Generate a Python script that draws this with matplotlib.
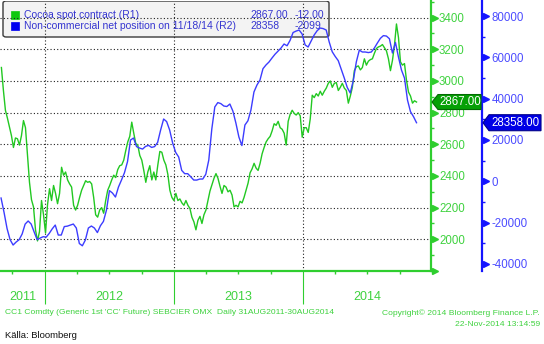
import numpy as np
import pandas as pd
import matplotlib
matplotlib.use("Agg")
import matplotlib.pyplot as plt
import matplotlib.dates as mdates
import matplotlib.transforms as mtransforms
from matplotlib.ticker import MultipleLocator, FixedLocator, FuncFormatter
from matplotlib.patches import FancyBboxPatch, Polygon, Rectangle

plt.rcParams["font.family"] = ["Liberation Sans", "DejaVu Sans"]
plt.rcParams["axes.unicode_minus"] = False

# ---------------------------------------------------------------- data
# Cocoa spot contract (R1), USD/t, 31 Aug 2011 - 18 Nov 2014
cocoa = [
    3085, 2940, 2815, 2765, 2710, 2655, 2580, 2640, 2635, 2595,
    2655, 2750, 2705, 2530, 2360, 2250, 2205, 2060, 1990, 2050,
    2245, 2155, 2040, 2220, 2320, 2245, 2340, 2290, 2225, 2290,
    2455, 2405, 2425, 2375, 2350, 2330, 2215, 2185, 2215, 2265,
    2310, 2340, 2370, 2360, 2365, 2350, 2265, 2155, 2140, 2185,
    2200, 2165, 2245, 2310, 2340, 2375, 2405, 2390, 2440, 2465,
    2470, 2500, 2560, 2615, 2650, 2740, 2670, 2605, 2595, 2530,
    2500, 2435, 2360, 2425, 2465, 2375, 2425, 2375, 2470, 2555,
    2550, 2500, 2470, 2410, 2310, 2265, 2245, 2290, 2245, 2255,
    2230, 2215, 2245, 2215, 2195, 2140, 2110, 2060, 2120, 2145,
    2100, 2155, 2185, 2245, 2305, 2345, 2385, 2415, 2385, 2335,
    2290, 2340, 2330, 2300, 2310, 2280, 2205, 2215, 2205, 2240,
    2230, 2265, 2310, 2355, 2420, 2445, 2480, 2450, 2435, 2480,
    2540, 2580, 2615, 2635, 2650, 2685, 2730, 2720, 2745, 2705,
    2695, 2670, 2595, 2745, 2790, 2815, 2795, 2785, 2800, 2780,
    2645, 2705, 2705, 2675, 2760, 2910, 2895, 2920, 2905, 2935,
    2910, 2935, 2955, 2985, 3000, 2960, 2985, 2990, 2940, 2960,
    2985, 2955, 2940, 2860, 2905, 2960, 3065, 3090, 3095, 3070,
    3085, 3140, 3100, 3125, 3135, 3140, 3175, 3205, 3215, 3220,
    3230, 3210, 3190, 3140, 3065, 3130, 3225, 3360, 3275, 3120,
    3100, 3110, 3005, 2930, 2905, 2860, 2875, 2867,
]
# Non-commercial net position (R2), contracts
net_pos = [
    -8090, -15100, -22900, -28250, -30830, -29390, -28250, -25500, -20700, -19200,
    -20670, -24550, -28250, -27450, -26800, -27000, -25200, -23000, -21160, -26000,
    -26000, -21900, -21700, -21160, -20670, -22600, -30100, -31200, -28420, -22610,
    -21640, -22600, -24800, -21500, -19400, -14000, -4500, -5670, -7610, -2760,
    620, 4200, 9500, 19980, 20950, 16800, 16100, 15600, 16900, 17400,
    16400, 16800, 18800, 24820, 30150, 28900, 24820, 18500, 14000, 11760,
    5300, 3700, 3700, 2200, 620, 600, 1100, 1100, 3400, 10300,
    25300, 36000, 38100, 37600, 36440, 36200, 37400, 34000, 28210, 21440,
    17300, 27240, 29300, 34500, 43220, 46600, 49000, 54500, 56300, 57740,
    59680, 61500, 63000, 64510, 66450, 65600, 68200, 72000, 72700, 73220,
    71290, 66000, 65000, 67900, 70800, 72900, 74190, 73900, 73220, 67420,
    62700, 60400, 58400, 54200, 50010, 45400, 42730, 48800, 57740, 63500,
    62580, 62580, 62300, 62580, 64510, 66930, 69200, 70500, 70300, 69000,
    62090, 67200, 60160, 53860, 50010, 39340, 33700, 31300, 28358,
]
cocoa_change = -12.00
net_change = -2099

cocoa_label = "Cocoa spot contract (R1)"
net_label = "Non-commercial net position on 11/18/14 (R2)"
year_labels = [2011, 2012, 2013, 2014]
cocoa_ticks = [2000, 2200, 2400, 2600, 2800, 3000, 3200, 3400]
cocoa_arrow_ticks = [1800] + cocoa_ticks
net_ticks = [-40000, -20000, 0, 20000, 40000, 60000, 80000]

footer_left = "CC1 Comdty (Generic 1st 'CC' Future) SEBCIER OMX  Daily 31AUG2011-30AUG2014"
footer_right_1 = "Copyright\u00a9 2014 Bloomberg Finance L.P."
footer_right_2 = "22-Nov-2014 13:14:59"
source_text = "K\u00e4lla: Bloomberg"

cocoa_dates = pd.date_range("2011-08-31", "2014-11-18", periods=len(cocoa))
net_dates = pd.date_range("2011-08-30", "2014-11-18", periods=len(net_pos))

# ---------------------------------------------------------------- style
GREEN_LINE = "#22c822"
GREEN_AXIS = "#2fce2f"
GREEN_TEXT = "#3fd23f"
BLUE_LINE = "#3c3cff"
BLUE_AXIS = "#1414ff"
BLUE_TEXT = "#4c4cff"
LEGEND_TEXT = "#3535d0"
GRID = "#202020"

W, H = 544, 344
fig = plt.figure(figsize=(W / 100, H / 100), dpi=100)
fig.patch.set_facecolor("white")


def fx(px):
    return px / W


def fy(py):
    return 1 - py / H


AX_RIGHT, AX_TOP, AX_BOTTOM = 431, 1, 271
ax = fig.add_axes([0, fy(AX_BOTTOM), fx(AX_RIGHT), (AX_BOTTOM - AX_TOP) / H])
ax2 = ax.twinx()

ax.plot(cocoa_dates, cocoa, color=GREEN_LINE, lw=1.0, zorder=3)
ax2.plot(net_dates, net_pos, color=BLUE_LINE, lw=1.0, zorder=3)

ax.set_xlim(pd.Timestamp("2011-08-27"), pd.Timestamp("2014-12-29"))
ax.set_ylim(1800, 3505)
ax2.set_ylim(-43400, 87260)

# spines
for s in ("left", "top"):
    ax.spines[s].set_visible(False)
ax.spines["right"].set_color(GREEN_AXIS)
ax.spines["right"].set_linewidth(1.6)
ax.spines["bottom"].set_color(GREEN_AXIS)
ax.spines["bottom"].set_linewidth(1.6)
for s in ("left", "top", "bottom"):
    ax2.spines[s].set_visible(False)
ax2.spines["right"].set_position(("outward", 51 * 0.72))
ax2.spines["right"].set_color(BLUE_AXIS)
ax2.spines["right"].set_linewidth(1.6)

# green (R1) axis
ax.yaxis.tick_right()
ax.yaxis.set_major_locator(FixedLocator(cocoa_ticks))
ax.yaxis.set_minor_locator(MultipleLocator(100))
ax.yaxis.set_major_formatter(FuncFormatter(lambda v, p: f"{v:.0f}"))
ax.tick_params(axis="y", which="major", length=0, pad=5.8, labelsize=8.3,
               labelcolor=GREEN_TEXT, labelright=True, labelleft=False)
ax.tick_params(axis="y", which="minor", length=2.4, width=1.0, color=GREEN_AXIS)

# blue (R2) axis
ax2.yaxis.set_major_locator(FixedLocator(net_ticks))
ax2.yaxis.set_minor_locator(MultipleLocator(10000))
ax2.yaxis.set_major_formatter(FuncFormatter(lambda v, p: f"{v:.0f}"))
ax2.tick_params(axis="y", which="major", length=0, pad=7.0, labelsize=8.3,
                labelcolor=BLUE_TEXT)
ax2.tick_params(axis="y", which="minor", length=2.4, width=1.0, color=BLUE_AXIS)

# time axis: year separators and quarterly minor ticks
ax.xaxis.set_major_locator(mdates.YearLocator())
ax.xaxis.set_minor_locator(mdates.MonthLocator(bymonth=[1, 4, 7, 10]))
ax.tick_params(axis="x", which="major", length=24, width=0.8, color=GREEN_AXIS,
               labelbottom=False)
ax.tick_params(axis="x", which="minor", length=2.4, width=1.0, color=GREEN_AXIS)

ax.grid(True, which="major", axis="both", color=GRID,
        linestyle=(0, (1, 2)), linewidth=0.8)

# arrow-shaped major ticks
tg = mtransforms.blended_transform_factory(ax.transAxes, ax.transData)
ax.plot([1 + 3.5 / AX_RIGHT] * len(cocoa_arrow_ticks), cocoa_arrow_ticks, ls="none",
        marker=">", ms=4.6, color=GREEN_AXIS, mec=GREEN_AXIS, transform=tg,
        clip_on=False, zorder=4)
tb = mtransforms.blended_transform_factory(ax2.transAxes, ax2.transData)
ax2.plot([1 + 54.5 / AX_RIGHT] * len(net_ticks), net_ticks, ls="none",
         marker=">", ms=4.6, color=BLUE_AXIS, mec=BLUE_AXIS, transform=tb,
         clip_on=False, zorder=4)

# year labels, centred in the visible part of each year
x0, x1 = ax.get_xlim()
tyear = mtransforms.blended_transform_factory(ax.transData, fig.transFigure)
for yr in year_labels:
    a = max(mdates.date2num(pd.Timestamp(f"{yr}-01-01")), x0)
    b = min(mdates.date2num(pd.Timestamp(f"{yr + 1}-01-01")), x1)
    ax.text((a + b) / 2, fy(297), str(yr), transform=tyear, ha="center",
            va="center", fontsize=9, color=GREEN_TEXT, clip_on=False)

# legend panel (drawn beneath the grid, as on the terminal chart)
box = FancyBboxPatch((fx(3), fy(37)), fx(326), 36 / H,
                     boxstyle="round,pad=0,rounding_size=0.006",
                     transform=fig.transFigure, fc="#f3f3f3", ec="#3a3a3a",
                     lw=1.0, zorder=1)
ax.add_artist(box)
rows = [
    (15, "#10c810", cocoa_label, f"{cocoa[-1]:.2f}", f"{cocoa_change:.2f}"),
    (26, "#0000f0", net_label, f"{net_pos[-1]:d}", f"{net_change:d}"),
]
for ypx, col, lab, val, chg in rows:
    ax.add_artist(Rectangle((fx(11), fy(ypx + 4)), fx(8), 8 / H,
                            transform=fig.transFigure, fc=col, ec=col,
                            lw=0.5, zorder=1.1))
    for xpx, s in ((24, lab), (250, val), (295, chg)):
        ax.text(fx(xpx), fy(ypx), s, transform=fig.transFigure, fontsize=7.5,
                color=LEGEND_TEXT, va="center", ha="left", zorder=1.2)


# last-value tags on the two value axes
def value_tag(axis, value, tip, left, right, half, face, edge, text):
    ydisp = axis.transData.transform((0, value))[1]
    ypx = H - ydisp
    pts = [(fx(tip), fy(ypx)), (fx(left), fy(ypx - half)), (fx(right), fy(ypx - half)),
           (fx(right), fy(ypx + half)), (fx(left), fy(ypx + half))]
    fig.add_artist(Polygon(pts, closed=True, transform=fig.transFigure,
                           fc=face, ec=edge, lw=0.8, zorder=10))
    fig.text(fx((left + right) / 2 + 1), fy(ypx), text, ha="center", va="center",
             color="white", fontsize=8.3, zorder=11)


value_tag(ax, cocoa[-1], 432, 438, 481, 7.5, "#06a006", "#046a04", f"{cocoa[-1]:.2f}")
value_tag(ax2, net_pos[-1], 483, 489, 541, 8.0, "#0000e6", "#00008a", f"{net_pos[-1]:.2f}")

# footer
fig.text(fx(5), fy(313), footer_left, fontsize=6.1, color=GREEN_TEXT,
         ha="left", va="center")
fig.text(fx(540), fy(313), footer_right_1, fontsize=6.1, color=GREEN_TEXT,
         ha="right", va="center")
fig.text(fx(540), fy(324), footer_right_2, fontsize=6.1, color=GREEN_TEXT,
         ha="right", va="center")
fig.text(fx(5), fy(336), source_text, fontsize=6.8, color="#111111",
         ha="left", va="center")

fig.savefig("out.png", dpi=100)
